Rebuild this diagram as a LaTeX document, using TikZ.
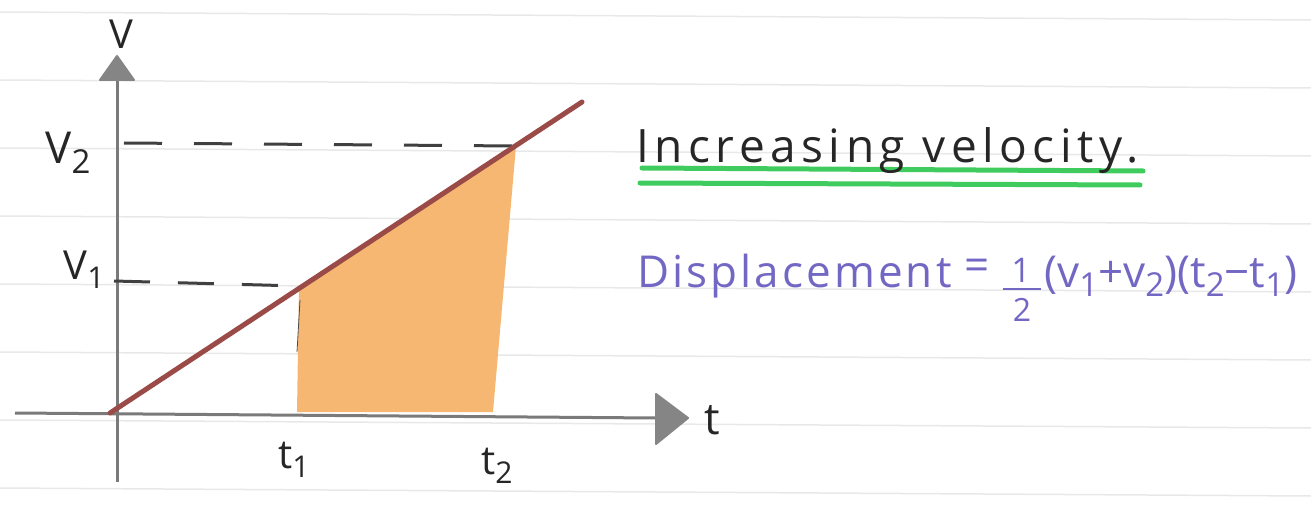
\documentclass[tikz,border=0pt]{standalone}
\usepackage{fontspec}
\setmainfont{Open Sans}
\newcommand\lowsub[1]{\raisebox{-0.4ex}{\scalebox{0.75}{#1}}}
\definecolor{axisgray}{HTML}{7A7A7A}
\definecolor{headgray}{HTML}{858585}
\definecolor{linered}{HTML}{9A4B47}
\definecolor{fillorange}{HTML}{F6B772}
\definecolor{hlgreen}{HTML}{3FCB5E}
\definecolor{penpurple}{HTML}{7367C4}
\definecolor{rulegray}{HTML}{E8E8E8}
\begin{document}
\begin{tikzpicture}[x=1pt,y=-1pt,
  rule/.style={rulegray, line width=1.5pt},
  axis/.style={axisgray, line width=3pt},
  head/.style={fill=headgray, draw=headgray, line width=2pt, line join=round},
  guide/.style={black!75, line width=3pt, dash pattern=on 38pt off 32pt},
  lbl/.style={inner sep=0pt, text=black!85, font=\fontsize{36}{40}\selectfont},
  hand/.style={inner sep=0pt, anchor=base west}]
\useasboundingbox (0,0) rectangle (1311,505);
% ruled paper
\foreach \yy in {12,80,148,216,284,352,420,488}
  \draw[rule] (0,\yy) -- (1311,\yy+8);
% coordinates
\coordinate (O) at (110,413);
\coordinate (yTop) at (117,80);
\coordinate (yBot) at (117,482);
\coordinate (xL) at (15,413);
\coordinate (xR) at (656,418);
\coordinate (P1) at (299,286);
\coordinate (P2) at (516,146);
\coordinate (Q2) at (493,412);
\coordinate (Q1) at (297,412);
\coordinate (lineEnd) at (582,102);
% shaded area
\fill[fillorange] (P1) -- (P2) -- (Q2) -- (Q1) -- cycle;
\draw[black!70, line width=0.8pt] (300,300) -- (297,352);
% axes
\draw[axis] (yTop) -- (yBot);
\draw[axis] (xL) -- (xR);
\draw[head] (117,56) -- (134,80) -- (100,80) -- cycle;
\draw[head] (688,418) -- (656,394) -- (656,444) -- cycle;
% guides
\draw[guide] (124,143) -- (P2);
\draw[guide, dash pattern=on 36pt off 28pt] (114,281) -- (P1);
% velocity line
\draw[linered, line width=5pt, line cap=round] (O) -- (lineEnd);
% axis labels
\node[lbl, font=\fontsize{40}{44}\selectfont] (vlab) at (121,34) {V};
\node[lbl, font=\fontsize{44}{48}\selectfont] (v2lab) at (68,153) {V\lowsub{2}};
\node[lbl, font=\fontsize{40}{44}\selectfont] (v1lab) at (84,270) {V\lowsub{1}};
\node[lbl, font=\fontsize{44}{48}\selectfont] (tlab) at (712,420) {t};
\node[lbl, font=\fontsize{40}{44}\selectfont] (t1lab) at (294,460) {t\lowsub{1}};
\node[lbl, font=\fontsize{40}{44}\selectfont] (t2lab) at (497,466) {t\lowsub{2}};
% title
\draw[hlgreen, line width=5pt, line cap=round] (642,168) -- (1143,171);
\draw[hlgreen, line width=5pt, line cap=round] (640,183) -- (1140,185);
\node[hand, text=black!85, font=\fontsize{46}{50}\selectfont\addfontfeature{LetterSpace=12}] (title) at (636,163) {Increasing velocity.};
% formula
\node[hand, text=penpurple, font=\fontsize{44}{48}\selectfont\addfontfeature{LetterSpace=7}] (disp) at (637,287) {Displacement};
\node[inner sep=0pt, text=penpurple, font=\fontsize{44}{48}\selectfont] (eq) at (977,270) {=};
\node[inner sep=0pt, text=penpurple, font=\fontsize{34}{36}\selectfont] (one) at (1021,270) {1};
\draw[penpurple, line width=2.5pt] (1003,289) -- (1041,289);
\node[inner sep=0pt, text=penpurple, font=\fontsize{32}{34}\selectfont] (two) at (1022,310) {2};
\node[hand, text=penpurple, font=\fontsize{44}{48}\selectfont] (rest) at (1044,287) {(v\lowsub{1}+v\lowsub{2})(t\lowsub{2}−t\lowsub{1})};
\end{tikzpicture}
\end{document}
